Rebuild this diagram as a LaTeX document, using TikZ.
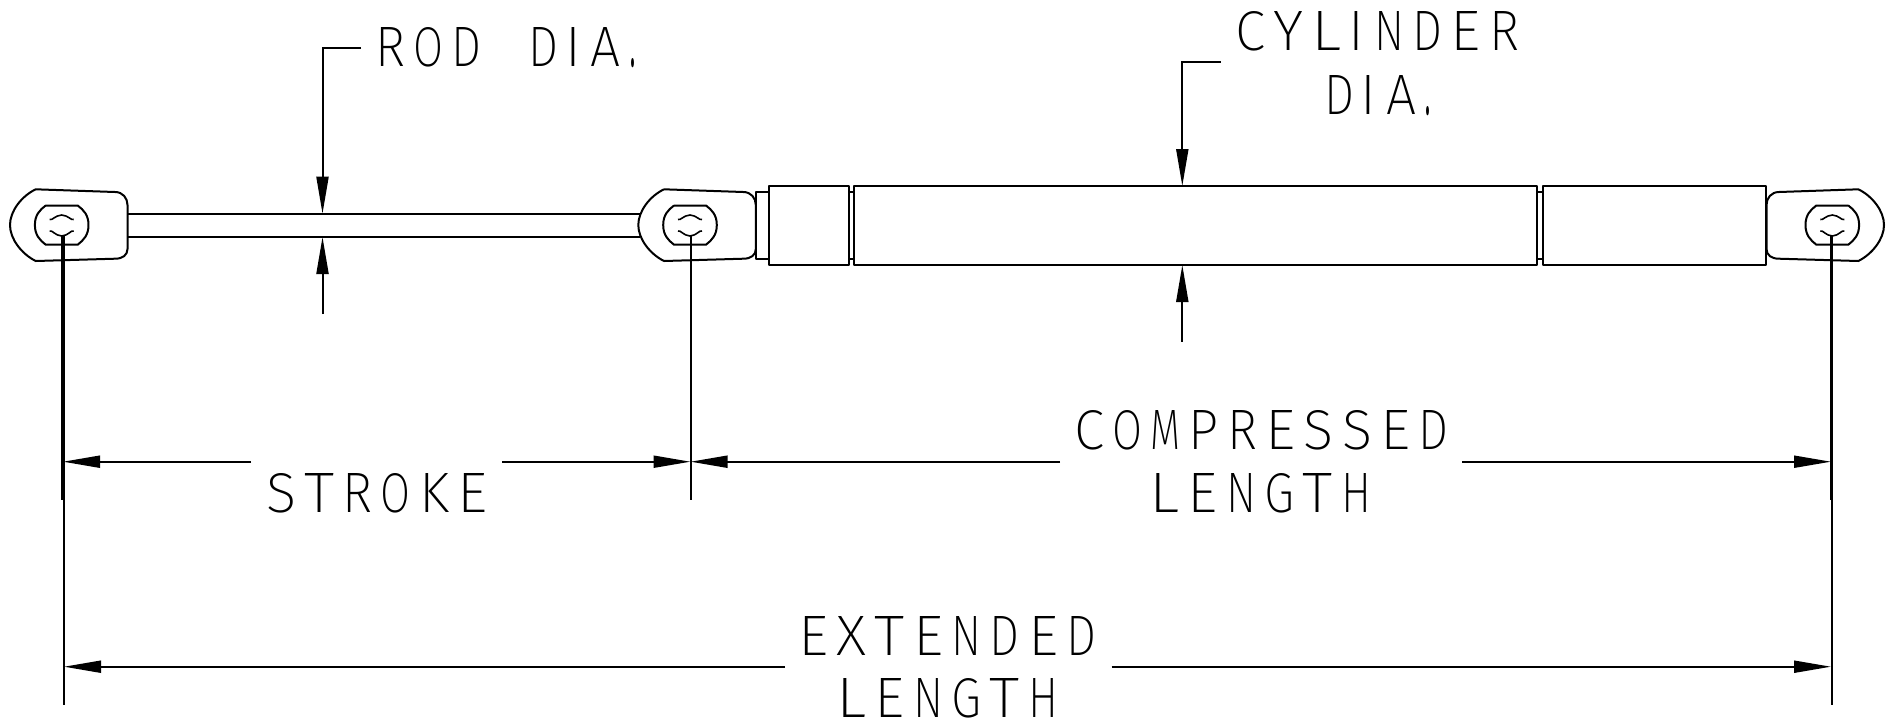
\documentclass[tikz,border=0pt]{standalone}
\usepackage{graphicx}
\usepackage{fontspec}
\usetikzlibrary{arrows.meta}
\newfontfamily\stkfont{Fira Sans ExtraLight}
\makeatletter
\newcommand\stkcell[1]{%
  \if#1I\makebox[24.3pt][l]{\makebox[13pt][c]{\resizebox{!}{39pt}{\stkfont I}}}%
  \else\if#1.\makebox[10pt][l]{\resizebox{7pt}{8pt}{\stkfont .}}%
  \else\makebox[38.3pt][l]{\resizebox{30pt}{39pt}{\stkfont #1}}%
  \fi\fi}
\newcommand\stk[1]{\@tfor\stkl:=#1\do{\expandafter\stkcell\expandafter{\stkl}}}
\makeatother
\tikzset{
  part/.style={line width=2pt,black,line join=round},
  dimline/.style={line width=2pt,black},
  dimarrow/.style={line width=2pt,black,-{Triangle[length=37pt,width=12pt]}},
  label/.style={anchor=base west,inner sep=0pt,outer sep=0pt},
  eyelet/.pic={
    \draw[part] (-26,-35.7) -- (53.3,-33) .. controls (61,-33) and (65.8,-27) .. (65.8,-20)
      -- (65.8,24) .. controls (65.8,30) and (61,33.7) .. (53.3,33.7) -- (-26,36)
      .. controls (-40,29) and (-51.7,14) .. (-51.7,0)
      .. controls (-51.7,-14) and (-40,-29) .. (-26,-35.7);
    \draw[part] (-16,-19.5) -- (16,-19.5) .. controls (22,-15) and (26.8,-10) .. (26.8,0)
      .. controls (26.8,10) and (22,15) .. (16,19.7) -- (-16,19.7)
      .. controls (-22,15) and (-26.8,10) .. (-26.8,0)
      .. controls (-26.8,-10) and (-22,-15) .. (-16,-19.5);
    \draw[part,line width=1.6pt] (-12,-5.5) .. controls (-9,-4.5) and (-7,-9.5) .. (0,-10)
      .. controls (7,-9.5) and (9,-4.5) .. (12,-5.5);
    \draw[part,line width=1.6pt] (-12,6) .. controls (-9,5) and (-7,10.5) .. (0,11)
      .. controls (7,10.5) and (9,5) .. (12,6);
  }
}
\begin{document}
\begin{tikzpicture}[x=1pt,y=-1pt]
\useasboundingbox (0,0) rectangle (1892,724);
\fill[white] (0,0) rectangle (1892,724);

% eyelets
\pic at (61.7,225) {eyelet};
\pic at (690,225) {eyelet};
\pic[xscale=-1] at (1832.3,225) {eyelet};

% rod
\coordinate (rodTL) at (127.5,213.7);
\coordinate (rodTR) at (640,213.7);
\coordinate (rodBL) at (127.5,237);
\coordinate (rodBR) at (640,237);
\draw[part] (rodTL) -- (rodTR);
\draw[part] (rodBL) -- (rodBR);

% cylinder parts
\draw[part] (756,192) rectangle (769,258.7);
\draw[part] (769,186) rectangle (848.7,265);
\draw[part] (848.7,192) rectangle (854.3,258.7);
\draw[part] (854.3,186) rectangle (1536.7,265);
\draw[part] (1536.7,192) rectangle (1542.7,258.7);
\draw[part] (1542.7,186) rectangle (1766,265);

% texts
\node[label] (rodtext) at (375,66.7) {\stk{ROD}\hspace{38.3pt}\stk{DIA.}};
\node[label] (cyltext) at (1235,50) {\stk{CYLINDER}};
\node[label] (diatext) at (1324,114) {\stk{DIA.}};
\node[label] (stroketext) at (266,512.7) {\stk{STROKE}};
\node[label] (comptext) at (1074,449) {\stk{COMPRESSED}};
\node[label] (lengthA) at (1149.5,512.7) {\stk{LENGTH}};
\node[label] (exttext) at (798.2,655) {\stk{EXTENDED}};
\node[label] (lengthB) at (836.5,717.7) {\stk{LENGTH}};

% extension lines
\coordinate (eyeA) at (62.3,236);
\coordinate (eyeAb) at (63.7,236);
\coordinate (eyeB) at (690.5,236);
\coordinate (eyeC) at (1832,236);
\coordinate (eyeCb) at (1831,236);
\coordinate (endA) at (62.3,500);
\coordinate (endAb) at (63.7,705);
\coordinate (endB) at (690.5,500);
\coordinate (endC) at (1832,705);
\coordinate (endCb) at (1831,500);
\draw[dimline] (eyeA) -- (endA);
\draw[dimline] (eyeAb) -- (endAb);
\draw[dimline] (eyeB) -- (endB);
\draw[dimline] (eyeC) -- (endC);
\draw[dimline] (eyeCb) -- (endCb);

% rod dia leaders
\coordinate (rodLeadEnd) at (361,47.5);
\coordinate (rodCorner) at (322.5,47.5);
\coordinate (rodTipT) at (322.5,213.7);
\coordinate (rodTipB) at (322.5,237);
\coordinate (rodFree) at (322.5,314);
\draw[dimarrow] (rodLeadEnd) -- (rodCorner) -- (rodTipT);
\draw[dimarrow] (rodFree) -- (rodTipB);

% cylinder dia leaders
\coordinate (cylLeadEnd) at (1220.7,62);
\coordinate (cylCorner) at (1182.3,62);
\coordinate (cylTipT) at (1182.3,186);
\coordinate (cylTipB) at (1182.3,265);
\coordinate (cylFree) at (1182.3,341.5);
\draw[dimarrow] (cylLeadEnd) -- (cylCorner) -- (cylTipT);
\draw[dimarrow] (cylFree) -- (cylTipB);

% dimensions
\coordinate (sL) at (251,461.7);
\coordinate (sR) at (502,461.7);
\coordinate (sTipL) at (63,461.7);
\coordinate (sTipR) at (690.5,461.7);
\coordinate (cL) at (1060,461.7);
\coordinate (cR) at (1462,461.7);
\coordinate (cTipR) at (1831,461.7);
\coordinate (eL) at (785,666.7);
\coordinate (eR) at (1111.7,666.7);
\coordinate (eTipL) at (64,666.7);
\coordinate (eTipR) at (1831,666.7);
\draw[dimarrow] (sL) -- (sTipL);
\draw[dimarrow] (sR) -- (sTipR);
\draw[dimarrow] (cL) -- (sTipR);
\draw[dimarrow] (cR) -- (cTipR);
\draw[dimarrow] (eL) -- (eTipL);
\draw[dimarrow] (eR) -- (eTipR);
\end{tikzpicture}
\end{document}
